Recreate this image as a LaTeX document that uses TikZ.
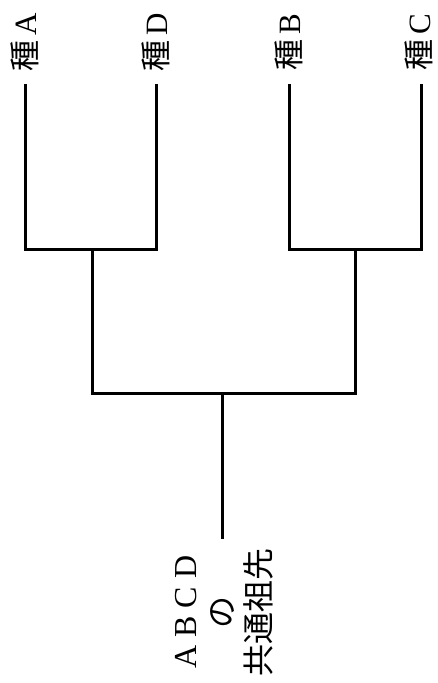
\documentclass[tikz,border=0pt]{standalone}
\usepackage{fontspec}
\setmainfont{Liberation Serif}
\newfontfamily\jp{Noto Sans CJK JP}
\begin{document}
\begin{tikzpicture}[x=1pt,y=-1pt,
  branch/.style={line width=3pt,line cap=rect,line join=miter},
  leaflabel/.style={rotate=90,inner sep=0pt,font=\fontsize{31}{36}\selectfont},
  rootlabel/.style={rotate=90,inner sep=0pt,align=center,font=\fontsize{32}{37}\selectfont}]
\useasboundingbox (0,0) rectangle (438,683);
% leaf labels
\node[leaflabel] (labA) at (25,42) {{\jp 種}\,A};
\node[leaflabel] (labD) at (156,42) {{\jp 種}\,D};
\node[leaflabel] (labB) at (289,42) {{\jp 種}\,B};
\node[leaflabel] (labC) at (419,42) {{\jp 種}\,C};
% leaf tips
\coordinate (a) at (25,85);
\coordinate (d) at (156,85);
\coordinate (b) at (289,85);
\coordinate (c) at (421,85);
% junctions
\coordinate (jL) at (92,249);
\coordinate (jR) at (355,249);
\coordinate (root) at (222,393);
\coordinate (rootend) at (222,537);
% branches
\draw[branch] (a) |- (jL) -| (d);
\draw[branch] (b) |- (jR) -| (c);
\draw[branch] (jL) |- (root) -| (jR);
\draw[branch] (root) -- (rootend);
% root label
\node[rootlabel] (anc) at (224,612) {A B C D\\{\jp の}\\{\jp 共通祖先}};
\end{tikzpicture}
\end{document}
